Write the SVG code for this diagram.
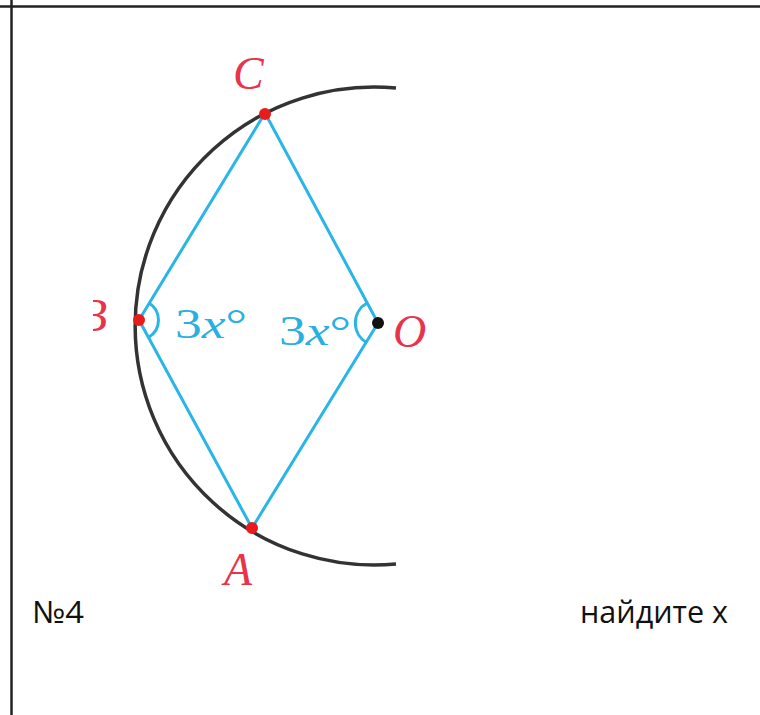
<svg xmlns="http://www.w3.org/2000/svg" width="760" height="715" viewBox="0 0 760 715">
<style>
.lbl{font-family:"Liberation Serif",serif;font-style:italic;fill:#e8344a;font-size:46px}
.ang{font-family:"Liberation Serif",serif;fill:#29b0e0;font-size:42px}
.txt{font-family:"Open Sans","Liberation Sans",sans-serif;font-size:31px;fill:#111}
.edge{stroke:#29b6e6;stroke-width:3;fill:none}
.pt{fill:#e81c1c}
</style>
<defs><clipPath id="cb"><rect x="93" y="290" width="45" height="60"/></clipPath></defs>
<rect width="760" height="715" fill="#fff"/>
<line x1="0" y1="6.5" x2="760" y2="6.5" stroke="#222" stroke-width="2.5"/>
<line x1="11.5" y1="0" x2="11.5" y2="715" stroke="#222" stroke-width="2.5"/>
<path d="M396,88 A239,239 0 1 0 396,564" fill="none" stroke="#333" stroke-width="3.5"/>
<g id="connectors">
<path class="edge" d="M139,320 L265,113 L378,323 L252,528 Z"/>
<path class="edge" d="M149,303 A20,20 0 0 1 149,337"/>
<path class="edge" d="M367,303 A23,23 0 0 0 367,343"/>
</g>
<g id="C"><circle class="pt" cx="265" cy="114" r="6"/><text class="lbl" x="233" y="89">C</text></g>
<g id="B"><circle class="pt" cx="139" cy="320" r="6"/><text class="lbl" x="79" y="331" clip-path="url(#cb)">B</text></g>
<g id="O"><circle cx="378" cy="323" r="6" fill="#111"/><text class="lbl" x="393" y="347">O</text></g>
<g id="A"><circle class="pt" cx="252" cy="528" r="6"/><text class="lbl" x="224" y="585">A</text></g>
<text class="ang" x="175" y="338" textLength="72" lengthAdjust="spacingAndGlyphs">3<tspan font-style="italic">x</tspan>°</text>
<text class="ang" x="279" y="345" textLength="72" lengthAdjust="spacingAndGlyphs">3<tspan font-style="italic">x</tspan>°</text>
<text class="txt" x="32" y="623" textLength="52" lengthAdjust="spacingAndGlyphs">№4</text>
<text class="txt" x="580" y="623" textLength="148" lengthAdjust="spacingAndGlyphs">найдите х</text>
</svg>
